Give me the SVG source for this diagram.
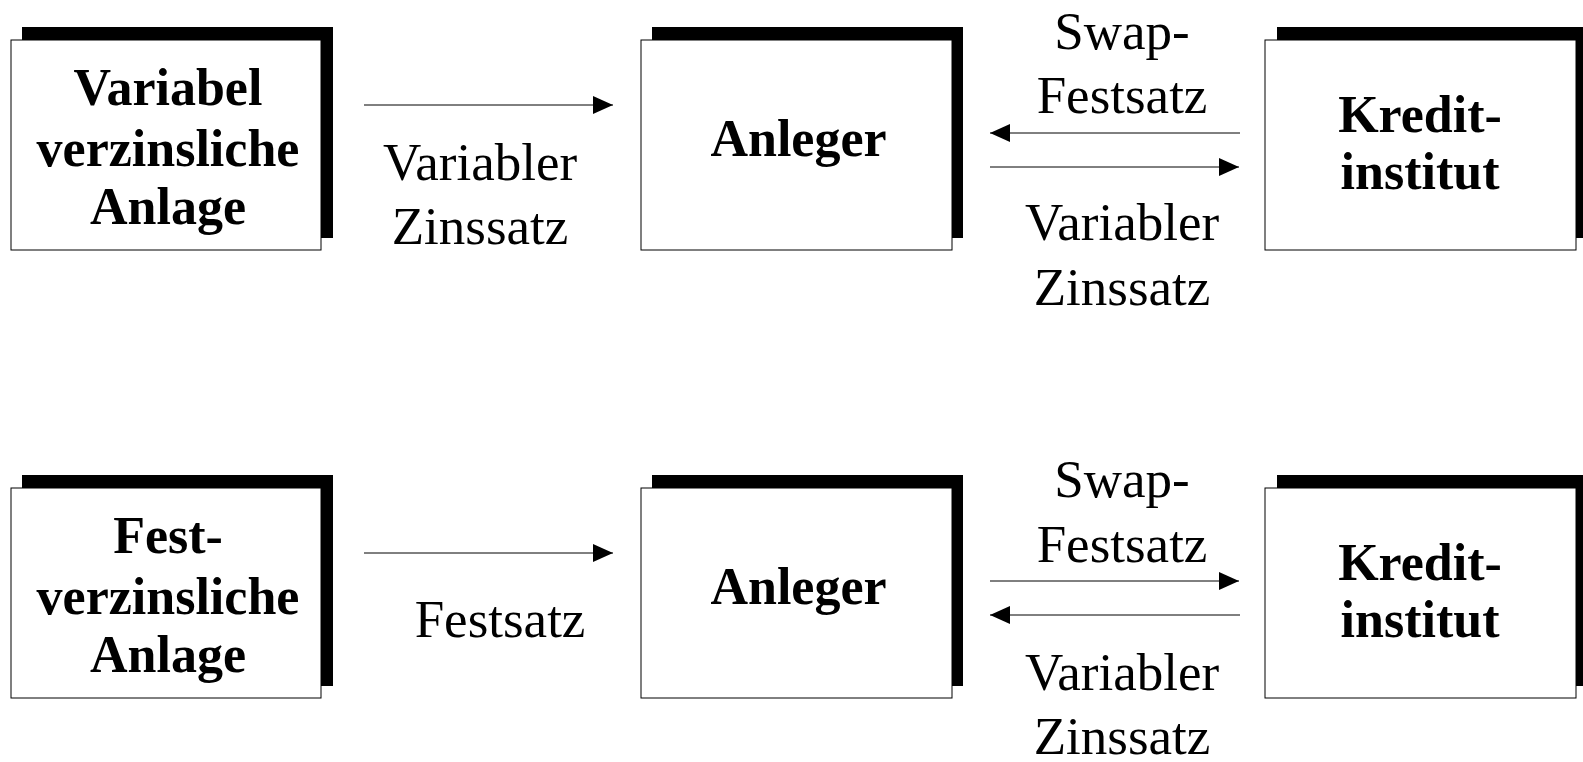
<svg xmlns="http://www.w3.org/2000/svg" width="1583" height="762" viewBox="0 0 1583 762">
<style>
.sh{fill:#000}
.bx{fill:#fff;stroke:#000;stroke-width:1}
.b{font-family:"Liberation Serif","Times New Roman",serif;font-weight:bold;font-size:52px;text-anchor:middle;fill:#000}
.r{font-family:"Liberation Serif","Times New Roman",serif;font-size:53px;text-anchor:middle;fill:#000}
.ln{stroke:#000;stroke-width:1;fill:none;marker-end:url(#ah)}
</style>
<defs>
<marker id="ah" markerUnits="userSpaceOnUse" markerWidth="20" markerHeight="18" refX="20" refY="9" orient="auto">
<path d="M0,0 L20,9 L0,18 z" fill="#000"/>
</marker>
</defs>
<rect width="1583" height="762" fill="#fff"/>

<g id="n-variabel-anlage">
<rect class="sh" x="22" y="27" width="311" height="211"/>
<rect class="bx" x="11" y="40" width="310" height="210"/>
<text class="b" x="168" y="105">Variabel</text>
<text class="b" x="168" y="166">verzinsliche</text>
<text class="b" x="168" y="224">Anlage</text>
</g>
<g id="n-anleger-1">
<rect class="sh" x="652" y="27" width="311" height="211"/>
<rect class="bx" x="641" y="40" width="311" height="210"/>
<text class="b" x="798.5" y="156">Anleger</text>
</g>
<g id="n-kredit-1">
<rect class="sh" x="1277" y="27" width="311" height="211"/>
<rect class="bx" x="1265" y="40" width="311" height="210"/>
<text class="b" x="1420" y="132">Kredit-</text>
<text class="b" x="1420" y="189">institut</text>
</g>

<g id="n-fest-anlage">
<rect class="sh" x="22" y="475" width="311" height="211"/>
<rect class="bx" x="11" y="488" width="310" height="210"/>
<text class="b" x="168" y="553">Fest-</text>
<text class="b" x="168" y="614">verzinsliche</text>
<text class="b" x="168" y="672">Anlage</text>
</g>
<g id="n-anleger-2">
<rect class="sh" x="652" y="475" width="311" height="211"/>
<rect class="bx" x="641" y="488" width="311" height="210"/>
<text class="b" x="798.5" y="604">Anleger</text>
</g>
<g id="n-kredit-2">
<rect class="sh" x="1277" y="475" width="311" height="211"/>
<rect class="bx" x="1265" y="488" width="311" height="210"/>
<text class="b" x="1420" y="580">Kredit-</text>
<text class="b" x="1420" y="637">institut</text>
</g>

<g id="connectors">
<line class="ln" x1="364" y1="105" x2="613" y2="105"/>
<line class="ln" x1="1240" y1="133" x2="990" y2="133"/>
<line class="ln" x1="990" y1="167" x2="1239" y2="167"/>
<line class="ln" x1="364" y1="553" x2="613" y2="553"/>
<line class="ln" x1="990" y1="581" x2="1239" y2="581"/>
<line class="ln" x1="1240" y1="615" x2="990" y2="615"/>
</g>

<g id="labels">
<text class="r" x="480" y="180">Variabler</text>
<text class="r" x="480" y="244">Zinssatz</text>
<text class="r" x="1122" y="49">Swap-</text>
<text class="r" x="1122" y="113">Festsatz</text>
<text class="r" x="1122" y="240">Variabler</text>
<text class="r" x="1122" y="305">Zinssatz</text>
<text class="r" x="500" y="637">Festsatz</text>
<text class="r" x="1122" y="497">Swap-</text>
<text class="r" x="1122" y="562">Festsatz</text>
<text class="r" x="1122" y="690">Variabler</text>
<text class="r" x="1122" y="754">Zinssatz</text>
</g>
</svg>
